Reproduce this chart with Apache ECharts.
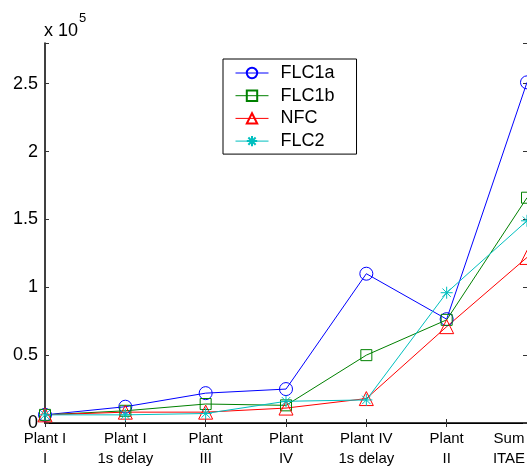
<!DOCTYPE html>
<html>
<head>
<meta charset="utf-8">
<script src="https://cdn.jsdelivr.net/npm/echarts@6/dist/echarts.min.js"></script>
<style>
  html, body { margin: 0; padding: 0; background: #fff; }
  #myChart { width: 527px; height: 466px; }
</style>
</head>
<body>
<div id="myChart"></div>
<script>
document.addEventListener("DOMContentLoaded", function () {
  var myChart = echarts.init(document.getElementById("myChart"));

  // categories (x axis)
  var categories = ["Plant I\nI", "Plant I\n1s delay", "Plant\nIII", "Plant\nIV",
                    "Plant IV\n1s delay", "Plant\nII", "Sum\nITAE"];
  // values in units of 10^5
  var flc1a = [0.06, 0.12, 0.22, 0.25, 1.10, 0.765, 2.51];
  var flc1b = [0.06, 0.09, 0.14, 0.13, 0.50, 0.76, 1.66];
  var nfc   = [0.06, 0.08, 0.08, 0.11, 0.18, 0.71, 1.22];
  var flc2  = [0.06, 0.06, 0.07, 0.16, 0.17, 0.96, 1.49];
  var yTicks = [0, 0.5, 1, 1.5, 2, 2.5];

  var star = "path://M0,-10L0,10M-10,0L10,0M-7,-7L7,7M-7,7L7,-7";
  var font = "Liberation Sans, Arial, Helvetica, sans-serif";

  // last label is cut by the window edge, so nudge it left
  var xData = categories.map(function (c, i) {
    if (i === categories.length - 1) {
      return { value: c, textStyle: { padding: [0, 36, 0, 0] } };
    }
    return c;
  });

  function mkSeries(name, data, color, symbol, size) {
    return {
      name: name,
      type: "line",
      data: data,
      symbol: symbol,
      symbolSize: size,
      showAllSymbol: true,
      clip: false,
      lineStyle: { color: color, width: 1 },
      itemStyle: { color: "rgba(0,0,0,0)", borderColor: color, borderWidth: 1 },
      emphasis: { disabled: true }
    };
  }

  var option = {
    animation: false,
    backgroundColor: "#fff",
    textStyle: { fontFamily: font },
    grid: { left: 45, right: 0, top: 43, bottom: 43, outerBoundsMode: "none", containLabel: false },
    legend: {
      left: 223, top: 59,
      orient: "vertical",
      backgroundColor: "#fff",
      borderColor: "#000",
      borderWidth: 1,
      padding: [5, 22, 4, 12],
      itemGap: 4.7,
      itemWidth: 33,
      itemHeight: 13,
      lineStyle: { width: 1 },
      textStyle: { fontSize: 18, color: "#000", fontFamily: font, padding: [0, 0, 0, 7] },
      data: ["FLC1a", "FLC1b", "NFC", "FLC2"]
    },
    xAxis: [{
      type: "category",
      data: xData,
      boundaryGap: false,
      axisLine: { lineStyle: { color: "#000", width: 1.5 } },
      axisTick: { inside: true, length: 4, lineStyle: { color: "#333" } },
      axisLabel: {
        fontSize: 15, color: "#000", lineHeight: 20, margin: 6, fontFamily: font, interval: 0
      },
      splitLine: { show: false }
    }, {
      type: "category",
      position: "top",
      data: categories,
      boundaryGap: false,
      axisLine: { lineStyle: { color: "#000", width: 1 } },
      axisTick: { inside: true, length: 4, lineStyle: { color: "#333" } },
      axisLabel: { show: false },
      splitLine: { show: false }
    }],
    yAxis: [{
      type: "value",
      min: 0, max: 2.8, interval: 0.5,
      axisLine: { show: true, lineStyle: { color: "#000", width: 1.5 } },
      axisTick: { show: true, inside: true, length: 4, lineStyle: { color: "#333" } },
      axisLabel: {
        fontSize: 18, color: "#000", margin: 7, fontFamily: font,
        formatter: function (v) { return yTicks.indexOf(v) >= 0 ? String(v) : ""; }
      },
      splitLine: { show: false }
    }, {
      type: "value",
      position: "right",
      min: 0, max: 2.8, interval: 0.5,
      axisLine: { show: true, lineStyle: { color: "#000", width: 1 } },
      axisTick: { show: true, inside: true, length: 4, lineStyle: { color: "#333" } },
      axisLabel: { show: false },
      splitLine: { show: false }
    }],
    graphic: [{
      type: "text",
      left: 44, top: 12,
      style: {
        text: "{a|x 10}{b|5}",
        rich: {
          a: { fontSize: 18, fontFamily: font, fill: "#000", padding: [10, 0, 0, 0] },
          b: { fontSize: 13, fontFamily: font, fill: "#000", verticalAlign: "top", padding: [0, 0, 12, 1] }
        }
      }
    }],
    series: [
      mkSeries("FLC1a", flc1a, "#0000ff", "circle", 13),
      mkSeries("FLC1b", flc1b, "#008000", "rect", 11),
      mkSeries("NFC", nfc, "#ff0000", "triangle", 14),
      mkSeries("FLC2", flc2, "#00bfbf", star, 12)
    ]
  };

  myChart.setOption(option);
});
</script>
</body>
</html>
